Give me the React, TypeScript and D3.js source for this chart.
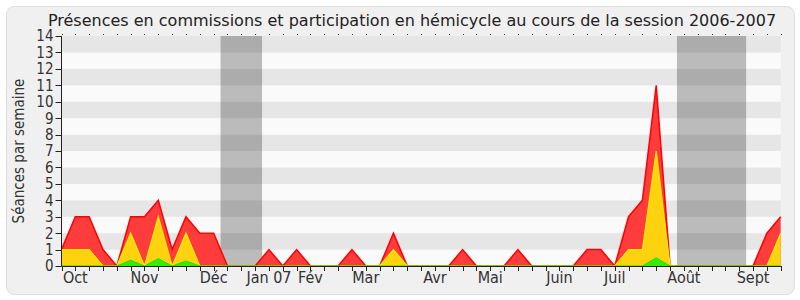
import React from "react";
import * as d3 from "d3";

const WEEKS = d3.range(0, 53);
const TOTAL = [1,3,3,1,0,3,3,4,1,3,2,2,0,0,0,1,0,1,0,0,0,1,0,0,2,0,0,0,0,1,0,0,0,1,0,0,0,0,1,1,0,3,4,11,0,0,0,0,0,0,0,2,3];
const YELLOW = [1,1,1,0,0,2,0,3,0,2,0,0,0,0,0,0,0,0,0,0,0,0,0,0,1,0,0,0,0,0,0,0,0,0,0,0,0,0,0,0,0,1,1,7,0,0,0,0,0,0,0,0,2];
const GREEN = [0,0,0,0,0,0.35,0,0.45,0,0.3,0,0,0,0,0,0,0,0,0,0,0,0,0,0,0,0,0,0,0,0,0,0,0,0,0,0,0,0,0,0,0,0,0,0.5,0,0,0,0,0,0,0,0,0];
const MONTH_LABELS = ["Oct","Nov","Déc","Jan 07","Fév","Mar","Avr","Mai","Juin","Juil","Août","Sept"];
const MONTH_WEEKS = [1,6,11,15,18,22,27,31,36,40,45,50];
const HOLIDAYS: [number, number][] = [[11.5,14.5],[44.5,49.5]];
const Y_TICKS = d3.range(0, 15);
const TITLE = "Présences en commissions et participation en hémicycle au cours de la session 2006-2007";
const Y_LABEL = "Séances par semaine";

const FONT = "'DejaVu Sans Condensed', 'DejaVu Sans', sans-serif";
const TITLE_FONT = "'DejaVu Sans', sans-serif";

export default function App() {
  const x = d3.scaleLinear().domain([0, 52]).range([61.5, 780.7]);
  const y = d3.scaleLinear().domain([0, 14]).range([266, 36]);
  const area = (vals: number[]) =>
    d3.area<number>().x((_, i) => x(i)).y0(y(0)).y1((d) => y(d))(vals) || "";
  const line = (vals: number[]) =>
    d3.line<number>().x((_, i) => x(i)).y((d) => y(d))(vals) || "";

  return (
    <svg width={800} height={300} style={{ position: "absolute", left: 0, top: 0 }} fontFamily={FONT}>
      <rect x={6.5} y={6.5} width={788} height={288} rx={8} fill="#f0f0f0" stroke="#dedede" />
      {Y_TICKS.slice(0, 14).map((k) => (
        <rect key={k} x={x(0)} y={y(k + 1)} width={x(52) - x(0)} height={y(k) - y(k + 1)}
          fill={k % 2 === 1 ? "#e6e6e6" : "#fafafa"} />
      ))}
      {HOLIDAYS.map(([a, b], i) => (
        <rect key={i} x={x(a)} y={y(14)} width={x(b) - x(a)} height={y(0) - y(14)} fill="#000" opacity={0.25} />
      ))}
      <path d={area(TOTAL)} fill="#ff3c3c" />
      <path d={line(TOTAL)} fill="none" stroke="#ff0000" strokeWidth={1.5} />
      <path d={area(YELLOW)} fill="#ffd20f" />
      <path d={line(YELLOW)} fill="none" stroke="#ffee00" strokeWidth={1.2} />
      <path d={area(GREEN)} fill="#33ee00" />
      <path d={line(GREEN)} fill="none" stroke="#22dd00" strokeWidth={1} />
      <line x1={x(0)} x2={x(0)} y1={y(14)} y2={y(0)} stroke="#222" />
      <line x1={x(0)} x2={x(52)} y1={y(0) + 0.5} y2={y(0) + 0.5} stroke="#222" />
      {Y_TICKS.map((t) => (
        <g key={t}>
          <line x1={x(0) - 6} x2={x(0)} y1={Math.round(y(t)) + 0.5} y2={Math.round(y(t)) + 0.5} stroke="#222" />
          <text x={x(0) - 8} y={y(t)} dy="0.36em" textAnchor="end" fontSize={15} fill="#333">{t}</text>
        </g>
      ))}
      {WEEKS.map((w) => (
        <g key={w}>
          <line x1={Math.round(x(w)) + 0.5} x2={Math.round(x(w)) + 0.5} y1={y(0)} y2={y(0) + 5} stroke="#222" />
          <line x1={Math.round(x(w)) + 0.5} x2={Math.round(x(w)) + 0.5} y1={y(14) - 2} y2={y(14) - 1} stroke="#333" />
        </g>
      ))}
      {MONTH_LABELS.map((m, i) => (
        <text key={m} x={x(MONTH_WEEKS[i])} y={283} textAnchor="middle" fontSize={16} fill="#333">{m}</text>
      ))}
      <text x={412} y={26} textAnchor="middle" fontSize={16} fill="#222" fontFamily={TITLE_FONT}>{TITLE}</text>
      <text transform={`translate(24,${(y(0) + y(14)) / 2}) rotate(-90)`} textAnchor="middle" fontSize={15} fill="#333">{Y_LABEL}</text>
    </svg>
  );
}
